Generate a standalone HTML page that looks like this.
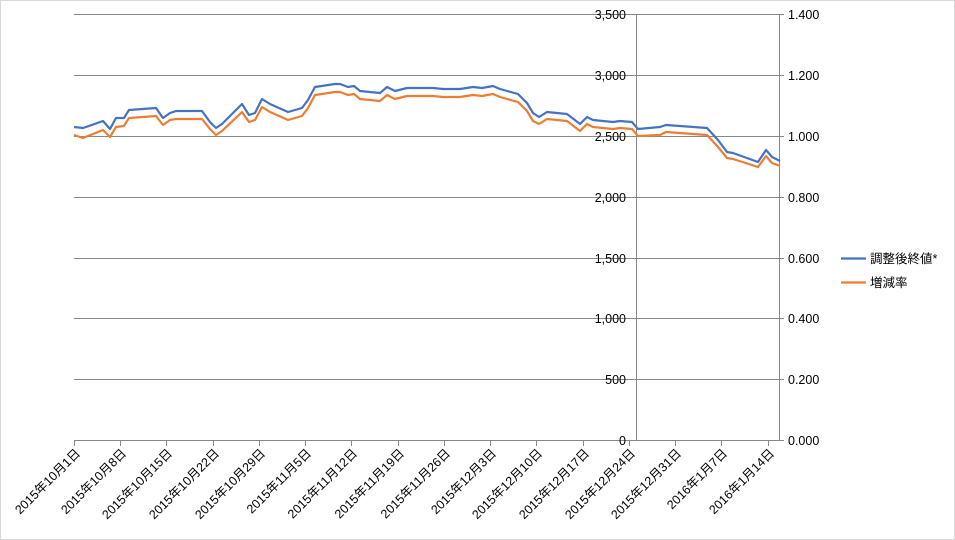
<!DOCTYPE html>
<html><head><meta charset="utf-8"><style>
html,body{margin:0;padding:0;background:#fff}
svg{display:block}
text{font-family:"Liberation Sans","Noto Sans CJK JP",sans-serif;font-size:12.5px;fill:#000}
</style></head><body>
<svg width="955" height="540" viewBox="0 0 955 540">
<rect x="0.5" y="0.5" width="954" height="539" fill="#fff" stroke="#d9d9d9"/>
<g stroke="#888" stroke-width="1">
<line x1="74" y1="14.5" x2="779" y2="14.5"/>
<line x1="74" y1="75.5" x2="779" y2="75.5"/>
<line x1="74" y1="136.5" x2="779" y2="136.5"/>
<line x1="74" y1="197.5" x2="779" y2="197.5"/>
<line x1="74" y1="258.5" x2="779" y2="258.5"/>
<line x1="74" y1="318.5" x2="779" y2="318.5"/>
<line x1="74" y1="379.5" x2="779" y2="379.5"/>
<line x1="74" y1="440.5" x2="779" y2="440.5"/>
<line x1="636.5" y1="14" x2="636.5" y2="440"/>
<line x1="779.5" y1="14" x2="779.5" y2="440"/>
<line x1="779" y1="14.5" x2="784" y2="14.5"/><line x1="779" y1="75.5" x2="784" y2="75.5"/><line x1="779" y1="136.5" x2="784" y2="136.5"/><line x1="779" y1="197.5" x2="784" y2="197.5"/><line x1="779" y1="258.5" x2="784" y2="258.5"/><line x1="779" y1="318.5" x2="784" y2="318.5"/><line x1="779" y1="379.5" x2="784" y2="379.5"/><line x1="779" y1="440.5" x2="784" y2="440.5"/>
<line x1="74.5" y1="440" x2="74.5" y2="446"/><line x1="120.5" y1="440" x2="120.5" y2="446"/><line x1="166.5" y1="440" x2="166.5" y2="446"/><line x1="213.5" y1="440" x2="213.5" y2="446"/><line x1="259.5" y1="440" x2="259.5" y2="446"/><line x1="305.5" y1="440" x2="305.5" y2="446"/><line x1="351.5" y1="440" x2="351.5" y2="446"/><line x1="398.5" y1="440" x2="398.5" y2="446"/><line x1="444.5" y1="440" x2="444.5" y2="446"/><line x1="490.5" y1="440" x2="490.5" y2="446"/><line x1="536.5" y1="440" x2="536.5" y2="446"/><line x1="583.5" y1="440" x2="583.5" y2="446"/><line x1="629.5" y1="440" x2="629.5" y2="446"/><line x1="675.5" y1="440" x2="675.5" y2="446"/><line x1="721.5" y1="440" x2="721.5" y2="446"/><line x1="768.5" y1="440" x2="768.5" y2="446"/>
</g>
<g text-anchor="end">
<text x="626" y="19">3,500</text><text x="626" y="80">3,000</text><text x="626" y="141">2,500</text><text x="626" y="202">2,000</text><text x="626" y="263">1,500</text><text x="626" y="323">1,000</text><text x="626" y="384">500</text><text x="626" y="445">0</text>
</g>
<g>
<text x="788" y="19">1.400</text><text x="788" y="80">1.200</text><text x="788" y="141">1.000</text><text x="788" y="202">0.800</text><text x="788" y="263">0.600</text><text x="788" y="323">0.400</text><text x="788" y="384">0.200</text><text x="788" y="445">0.000</text>
</g>
<g text-anchor="end">
<text transform="translate(81,454) rotate(-45)">2015年10月1日</text>
<text transform="translate(127,454) rotate(-45)">2015年10月8日</text>
<text transform="translate(173,454) rotate(-45)">2015年10月15日</text>
<text transform="translate(220,454) rotate(-45)">2015年10月22日</text>
<text transform="translate(266,454) rotate(-45)">2015年10月29日</text>
<text transform="translate(312,454) rotate(-45)">2015年11月5日</text>
<text transform="translate(358,454) rotate(-45)">2015年11月12日</text>
<text transform="translate(405,454) rotate(-45)">2015年11月19日</text>
<text transform="translate(451,454) rotate(-45)">2015年11月26日</text>
<text transform="translate(497,454) rotate(-45)">2015年12月3日</text>
<text transform="translate(543,454) rotate(-45)">2015年12月10日</text>
<text transform="translate(590,454) rotate(-45)">2015年12月17日</text>
<text transform="translate(636,454) rotate(-45)">2015年12月24日</text>
<text transform="translate(682,454) rotate(-45)">2015年12月31日</text>
<text transform="translate(728,454) rotate(-45)">2016年1月7日</text>
<text transform="translate(775,454) rotate(-45)">2016年1月14日</text>
</g>
<polyline fill="none" stroke="#4472c4" stroke-width="2.2" stroke-linejoin="round" points="74,127 83,128 103,121 110,129 116,118 124,118 129,110 156,108 163,118 170,113 176,111 202,111 210,122 216,128 222,124 242,104 249,115 255,113 262,99 270,104 288,112 302,108 308,100 315,87 335,84 340,84 348,87 354,86 360,91 380,93 387,87 395,91 407,88 433,88 443,89 460,89 473,87 482,88 493,86 500,89 518,94 527,103 533,113 539,117 547,112 567,114 580,124 587,117 593,120 613,122 620,121 632,122 638,129 660,127 666,125 707,128 718,140 727,152 733,153 758,162 766,150 772,157 780,161"/>
<polyline fill="none" stroke="#ed7d31" stroke-width="2.2" stroke-linejoin="round" points="74,135 83,138 103,130 110,137 116,127 124,126 129,118 156,116 163,125 170,120 176,119 202,119 210,129 216,135 222,131 242,112 249,122 255,120 262,107 270,112 288,120 302,116 308,108 315,95 335,92 340,92 348,95 354,94 360,99 380,101 387,95 395,99 407,96 433,96 443,97 460,97 473,95 482,96 493,94 500,97 518,102 527,111 533,121 539,124 547,119 567,121 580,131 587,124 593,127 613,129 620,128 632,129 638,136 660,135 666,132 707,135 718,147 727,158 733,159 758,167 766,156 772,163 780,166"/>
<line x1="841" y1="258.5" x2="866" y2="258.5" stroke="#4472c4" stroke-width="2.2"/>
<line x1="841" y1="282.5" x2="866" y2="282.5" stroke="#ed7d31" stroke-width="2.2"/>
<text x="870" y="263">調整後終値*</text>
<text x="870" y="287">増減率</text>
</svg>
</body></html>
